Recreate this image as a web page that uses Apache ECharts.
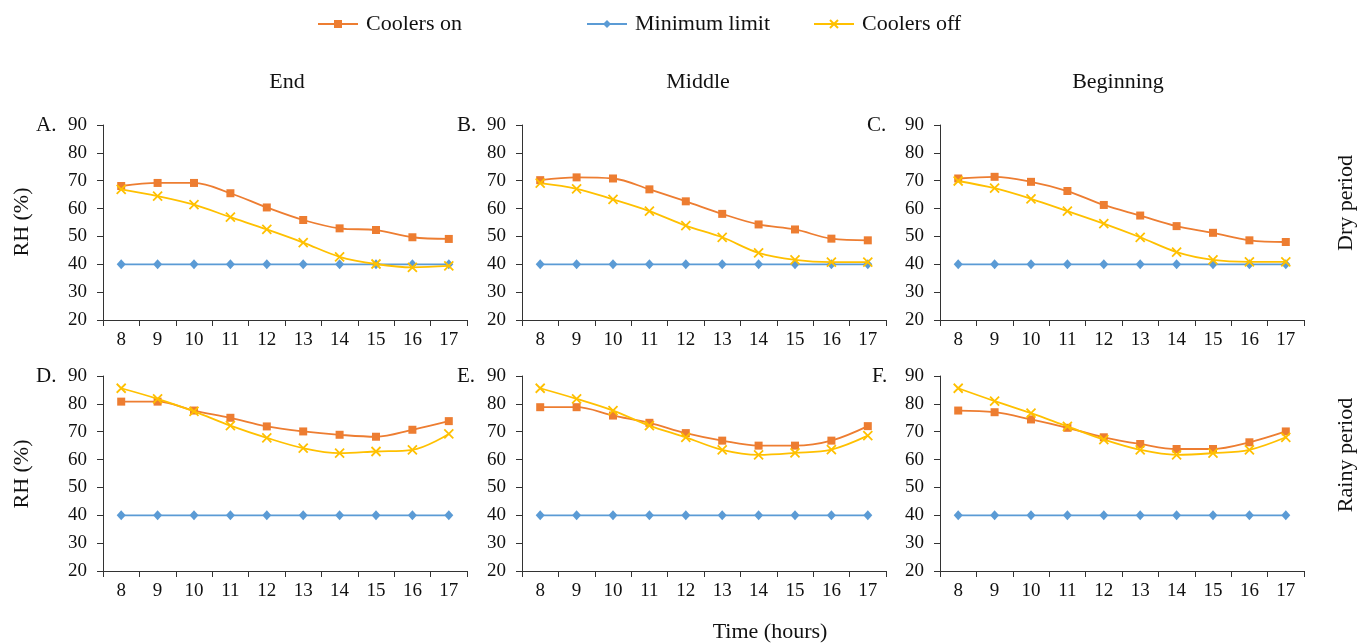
<!DOCTYPE html>
<html><head><meta charset="utf-8">
<script src="https://cdn.jsdelivr.net/npm/echarts@6/dist/echarts.min.js"></script>
<style>html,body{margin:0;padding:0;background:#fff}#c{width:1368px;height:643px}</style>
</head><body><div id="c"></div>
<script>
// ---- data ----
const hours = ['8', '9', '10', '11', '12', '13', '14', '15', '16', '17'];
const minLimit = [40, 40, 40, 40, 40, 40, 40, 40, 40, 40];
const dryEndOn = [68.1, 69.2, 69.2, 65.5, 60.4, 55.9, 52.9, 52.3, 49.7, 49.1];
const dryEndOff = [66.9, 64.5, 61.4, 56.9, 52.5, 47.8, 42.7, 40.1, 38.9, 39.4];
const dryMidOn = [70.2, 71.2, 70.8, 66.9, 62.6, 58.1, 54.3, 52.5, 49.2, 48.6];
const dryMidOff = [69.1, 67.1, 63.3, 59.1, 53.9, 49.7, 44.1, 41.6, 40.8, 40.8];
const dryBegOn = [70.8, 71.4, 69.6, 66.3, 61.3, 57.5, 53.7, 51.3, 48.6, 48.0];
const dryBegOff = [69.9, 67.3, 63.5, 59.1, 54.6, 49.7, 44.4, 41.6, 40.9, 40.9];
const rainyEndOn = [80.8, 80.8, 77.6, 75.0, 71.9, 70.1, 68.9, 68.2, 70.7, 73.8];
const rainyEndOff = [85.6, 81.8, 77.3, 72.2, 67.8, 64.1, 62.3, 62.9, 63.5, 69.2];
const rainyMidOn = [78.8, 78.8, 75.8, 73.2, 69.5, 66.8, 65.0, 65.0, 66.8, 72.0];
const rainyMidOff = [85.6, 81.8, 77.6, 72.2, 68.0, 63.5, 61.7, 62.4, 63.6, 68.6];
const rainyBegOn = [77.6, 77.0, 74.4, 71.4, 68.0, 65.6, 63.8, 63.8, 66.2, 70.1];
const rainyBegOff = [85.6, 81.0, 76.7, 71.9, 67.2, 63.5, 61.7, 62.3, 63.5, 68.0];
const seriesNames = ['Coolers on', 'Minimum limit', 'Coolers off'];
const panelLabels = ['A.', 'B.', 'C.', 'D.', 'E.', 'F.'];
const columnTitles = ['End', 'Middle', 'Beginning'];
const rowTitles = ['Dry period', 'Rainy period'];
const yAxisTitle = 'RH (%)';
const xAxisTitle = 'Time (hours)';
const yMin = 20, yMax = 90, yStep = 10;

// ---- layout ----
const FONT = '"Liberation Serif", "Times New Roman", serif';
const TXT = '#111';
const AX = '#333';
const colors = ['#ED7D31', '#5B9BD5', '#FFC000'];
const gridLefts = [103, 522, 940];
const gridTops = [125, 376];
const gridW = 364, gridH = 195;
const panels = [
  [dryEndOn, dryEndOff], [dryMidOn, dryMidOff], [dryBegOn, dryBegOff],
  [rainyEndOn, rainyEndOff], [rainyMidOn, rainyMidOff], [rainyBegOn, rainyBegOff]
];
const crossPath = 'path://M0,0L10,10M10,0L0,10';

const grid = [], xAxis = [], yAxis = [], series = [];
panels.forEach((p, i) => {
  const col = i % 3, row = Math.floor(i / 3);
  grid.push({left: gridLefts[col], top: gridTops[row], width: gridW, height: gridH});
  xAxis.push({
    type: 'category', gridIndex: i, data: hours, boundaryGap: true,
    axisLine: {lineStyle: {color: AX, width: 1}},
    axisTick: {show: true, length: 6, lineStyle: {color: AX}},
    axisLabel: {color: TXT, fontFamily: FONT, fontSize: 19, margin: 11},
    splitLine: {show: false}
  });
  yAxis.push({
    type: 'value', gridIndex: i, min: yMin, max: yMax, interval: yStep,
    axisLine: {show: true, lineStyle: {color: AX, width: 1}},
    axisTick: {show: true, length: 6, lineStyle: {color: AX}},
    axisLabel: {color: TXT, fontFamily: FONT, fontSize: 19, margin: 16},
    splitLine: {show: false}
  });
  series.push({
    name: seriesNames[0], type: 'line', xAxisIndex: i, yAxisIndex: i, data: p[0],
    smooth: 0.35, symbol: 'rect', symbolSize: 8,
    lineStyle: {color: colors[0], width: 1.8}, itemStyle: {color: colors[0]}, z: 2
  });
  series.push({
    name: seriesNames[1], type: 'line', xAxisIndex: i, yAxisIndex: i, data: minLimit,
    symbol: 'diamond', symbolSize: [9, 10],
    lineStyle: {color: colors[1], width: 1.8}, itemStyle: {color: colors[1]}, z: 3
  });
  series.push({
    name: seriesNames[2], type: 'line', xAxisIndex: i, yAxisIndex: i, data: p[1],
    smooth: 0.35, symbol: crossPath, symbolSize: 9,
    lineStyle: {color: colors[2], width: 1.8},
    itemStyle: {color: colors[2], borderColor: colors[2], borderWidth: 1.8}, z: 4
  });
});

function txt(text, x, y, size, rot, align) {
  return {
    type: 'text', x: x, y: y, rotation: rot || 0, silent: true,
    style: {text: text, x: 0, y: 0, font: size + 'px ' + FONT, fill: TXT,
            textAlign: align || 'center', textVerticalAlign: 'middle'}
  };
}
const graphic = [];
const colCenters = [287, 698, 1118];
columnTitles.forEach((t, c) => graphic.push(txt(t, colCenters[c], 82, 22)));
const labelPos = [[36, 125], [457, 125], [867, 125], [36, 376], [457, 376], [872, 376]];
panelLabels.forEach((t, i) => graphic.push(txt(t, labelPos[i][0], labelPos[i][1], 21, 0, 'left')));
graphic.push(txt(yAxisTitle, 22, 222, 22, Math.PI / 2));
graphic.push(txt(yAxisTitle, 22, 474, 22, Math.PI / 2));
graphic.push(txt(rowTitles[0], 1346, 203, 22, Math.PI / 2));
graphic.push(txt(rowTitles[1], 1346, 455, 22, Math.PI / 2));
graphic.push(txt(xAxisTitle, 770, 632, 22));

const legendLefts = [312, 581, 808];
const legend = seriesNames.map((n, k) => ({
  data: [n], left: legendLefts[k], top: 8, itemWidth: 40, itemHeight: 10,
  textStyle: {color: TXT, fontFamily: FONT, fontSize: 22, padding: [0, 0, 0, 3]},
  selectedMode: false
}));

const chart = echarts.init(document.getElementById('c'), null, {renderer: 'canvas'});
chart.setOption({
  animation: false, backgroundColor: '#fff',
  legend: legend, grid: grid, xAxis: xAxis, yAxis: yAxis, series: series, graphic: graphic
});
</script></body></html>
